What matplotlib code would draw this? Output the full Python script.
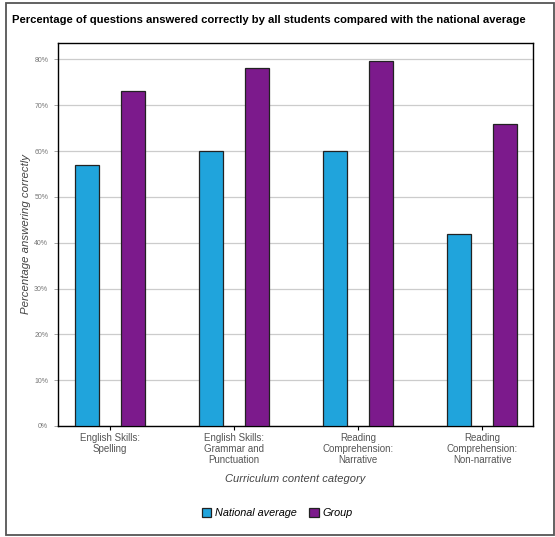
"""
Grouped bar chart: percentage of questions answered correctly vs national average.
"""

import matplotlib.pyplot as plt
from matplotlib.patches import Rectangle
from matplotlib.ticker import FuncFormatter, MultipleLocator

# Data
categories = ["English Skills:\nSpelling",
              "English Skills:\nGrammar and\nPunctuation",
              "Reading\nComprehension:\nNarrative",
              "Reading\nComprehension:\nNon-narrative"]
national_average = [57, 60, 60, 42]
group = [73.2, 78.2, 79.7, 66]

blue = '#20a4dc'
purple = '#7c1a8c'

plt.rcParams['font.family'] = ['Liberation Sans', 'DejaVu Sans']

fig = plt.figure(figsize=(5.55, 5.37), dpi=100)
ax = fig.add_axes([58 / 555, 1 - 426 / 537, (533 - 58) / 555, (426 - 43) / 537])

x = range(len(categories))
w = 0.194
off = 0.185
ax.bar([i - off for i in x], national_average, width=w, color=blue,
       edgecolor='#222222', linewidth=0.9, label='National average', zorder=3)
ax.bar([i + off for i in x], group, width=w, color=purple,
       edgecolor='#222222', linewidth=0.9, label='Group', zorder=3)

ax.set_xlim(-0.42, 3.41)
ax.set_ylim(0, 83.6)
ax.yaxis.set_major_locator(MultipleLocator(10))
ax.yaxis.set_major_formatter(FuncFormatter(lambda v, p: f"{v:.0f}%"))
ax.grid(axis='y', color='#cccccc', linewidth=0.9, zorder=0)

ax.set_xticks(list(x))
ax.set_xticklabels(categories, fontsize=7, color='#555555', linespacing=1.15)
ax.tick_params(axis='x', length=3, width=0.8, pad=2)
ax.tick_params(axis='y', labelsize=5, labelcolor='#777777', length=3,
               width=0.6, color='#999999', pad=4)
for s in ax.spines.values():
    s.set_color('black')
    s.set_linewidth(1.0)

ax.set_xlabel("Curriculum content category", fontsize=8, style='italic',
              color='#444444', labelpad=6)
ax.set_ylabel("Percentage answering correctly", fontsize=8.2, style='italic',
              color='#444444')
ax.yaxis.set_label_coords(-0.056, 0.5)

fig.text(12 / 555, 1 - 20 / 537,
         "Percentage of questions answered correctly by all students compared with the national average",
         fontsize=8.1, fontweight='bold', va='center', ha='left')

fig.legend(loc='center', bbox_to_anchor=(277 / 555, 1 - 513 / 537), ncol=2,
           frameon=False, prop={'style': 'italic', 'size': 7.8},
           handlelength=0.9, handleheight=0.9, handletextpad=0.3, columnspacing=1.2)

# outer frame
fig.patches.append(Rectangle((6 / 555, 2 / 537), 548 / 555, 532 / 537,
                             transform=fig.transFigure, fill=False,
                             edgecolor='#555555', linewidth=1.3))

fig.savefig('out.png', dpi=100)
